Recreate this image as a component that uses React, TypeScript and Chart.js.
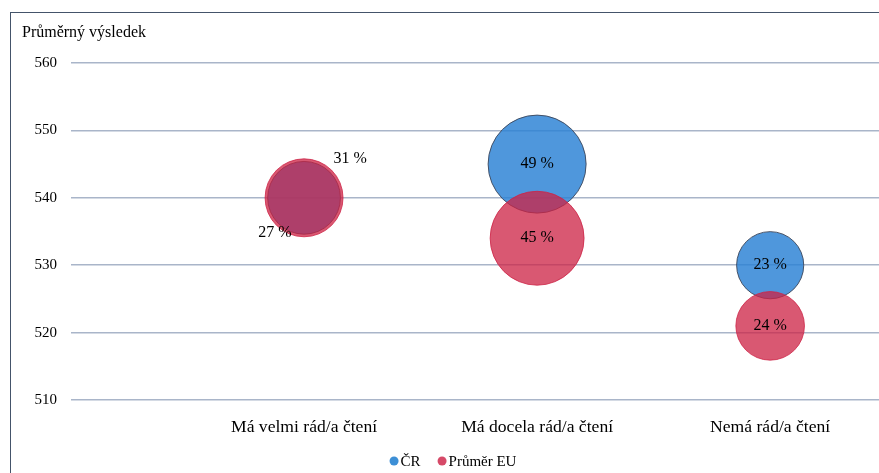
import React, { useEffect, useRef } from "react";
import { Chart, registerables } from "chart.js";

Chart.register(...registerables);

const categories = ["Má velmi rád/a čtení", "Má docela rád/a čtení", "Nemá rád/a čtení"];
const seriesNames = ["ČR", "Průměr EU"];
const crScores = [540, 545, 530];
const crShares = [27, 49, 23];
const euScores = [540, 534, 521];
const euShares = [31, 45, 24];
const yTicks = [510, 520, 530, 540, 550, 560];
const yTitle = "Průměrný výsledek";

const FONT = '"Liberation Serif", "Times New Roman", serif';
const radiusOf = (share: number) => 7 * Math.sqrt(share);
const seriesColors = ["rgba(40,128,212,0.82)", "rgba(205,35,70,0.76)"];
const legendDotColors = ["#3d8fd6", "#d64a68"];

const shares = [crShares, euShares];

const labelPlugin = {
  id: "bubbleLabels",
  afterDatasetsDraw(chart: any) {
    const ctx = chart.ctx;
    ctx.save();
    ctx.fillStyle = "#000";
    ctx.font = `16px ${FONT}`;
    ctx.textAlign = "center";
    ctx.textBaseline = "middle";
    chart.data.datasets.forEach((_ds: any, di: number) => {
      const meta = chart.getDatasetMeta(di);
      meta.data.forEach((el: any, i: number) => {
        const v = shares[di][i];
        const r = radiusOf(v);
        let dx = 0;
        let dy = 0;
        // first category: bubbles coincide, labels moved outside
        if (i === 0) {
          if (di === 0) {
            dx = -r * 0.8;
            dy = r * 0.95;
          } else {
            dx = r * 1.18;
            dy = -r * 1.0;
          }
        }
        ctx.fillText(`${v} %`, el.x + dx, el.y + dy);
      });
    });
    ctx.textAlign = "left";
    ctx.font = `16px ${FONT}`;
    ctx.fillText(yTitle, 12, 21);

    // legend
    ctx.font = `15px ${FONT}`;
    const dotR = 4.5;
    const gapDot = 2;
    const gapItem = 17;
    const widths = seriesNames.map((n) => dotR * 2 + gapDot + ctx.measureText(n).width);
    const total = widths.reduce((a, b) => a + b, 0) + gapItem * (seriesNames.length - 1);
    let x = 443 - total / 2;
    const y = 449;
    seriesNames.forEach((n, i) => {
      ctx.beginPath();
      ctx.arc(x + dotR, y, dotR, 0, Math.PI * 2);
      ctx.fillStyle = legendDotColors[i];
      ctx.fill();
      ctx.fillStyle = "#000";
      ctx.textBaseline = "middle";
      ctx.fillText(n, x + dotR * 2 + gapDot, y + 1);
      x += widths[i] + gapItem;
    });
    ctx.restore();
  },
};

export default function App() {
  const ref = useRef<HTMLCanvasElement | null>(null);
  useEffect(() => {
    if (!ref.current) return;
    document.body.style.overflow = "hidden";
    const chart = new Chart(ref.current, {
      type: "bubble",
      data: {
        datasets: [
          {
            label: seriesNames[0],
            data: crScores.map((y, i) => ({ x: i + 1, y, r: radiusOf(crShares[i]) })),
            backgroundColor: seriesColors[0],
            borderColor: "rgba(60,70,90,0.9)",
            borderWidth: 1,
            order: 1,
          },
          {
            label: seriesNames[1],
            data: euScores.map((y, i) => ({ x: i + 1, y, r: radiusOf(euShares[i]) })),
            backgroundColor: seriesColors[1],
            borderColor: "rgba(205,35,70,0.8)",
            borderWidth: 1,
            order: 0,
          },
        ],
      },
      options: {
        animation: false,
        responsive: false,
        layout: { padding: { top: 51, left: 0, right: 0, bottom: 38 } },
        scales: {
          x: {
            type: "linear",
            min: 0,
            max: 3.6,
            grid: { display: false, drawTicks: false },
            border: { display: false },
            afterBuildTicks: (scale: any) => {
              scale.ticks = categories.map((_c, i) => ({ value: i + 1 }));
            },
            afterFit: (scale: any) => {
              scale.height = 44;
            },
            ticks: {
              autoSkip: false,
              maxRotation: 0,
              padding: 17,
              color: "#000",
              font: { family: FONT, size: 17.6 },
              callback: (v: any) => categories[Number(v) - 1] ?? "",
            },
          },
          y: {
            min: yTicks[0],
            max: yTicks[yTicks.length - 1],
            afterBuildTicks: (scale: any) => {
              scale.ticks = yTicks.map((v) => ({ value: v }));
            },
            afterFit: (scale: any) => {
              scale.width = 61;
            },
            grid: { color: "#a9b5c9", lineWidth: 1.5, drawTicks: false },
            border: { display: false },
            ticks: {
              padding: 14,
              color: "#000",
              font: { family: FONT, size: 15 },
            },
          },
        },
        plugins: {
          legend: { display: false },
          tooltip: { enabled: false },
        },
      },
      plugins: [labelPlugin],
    } as any);
    return () => chart.destroy();
  }, []);

  return (
    <div
      style={{
        position: "fixed",
        left: 0,
        top: 0,
        width: 879,
        height: 473,
        overflow: "hidden",
        background: "#fff",
      }}
    >
      <canvas
        ref={ref}
        width={950}
        height={470}
        style={{ position: "absolute", left: 10, top: 12, width: 950, height: 470 }}
      />
      <div
        style={{
          position: "absolute",
          left: 10,
          top: 12,
          width: 920,
          height: 500,
          borderTop: "1.5px solid #44546a",
          borderLeft: "1.5px solid #44546a",
          pointerEvents: "none",
        }}
      />
    </div>
  );
}
